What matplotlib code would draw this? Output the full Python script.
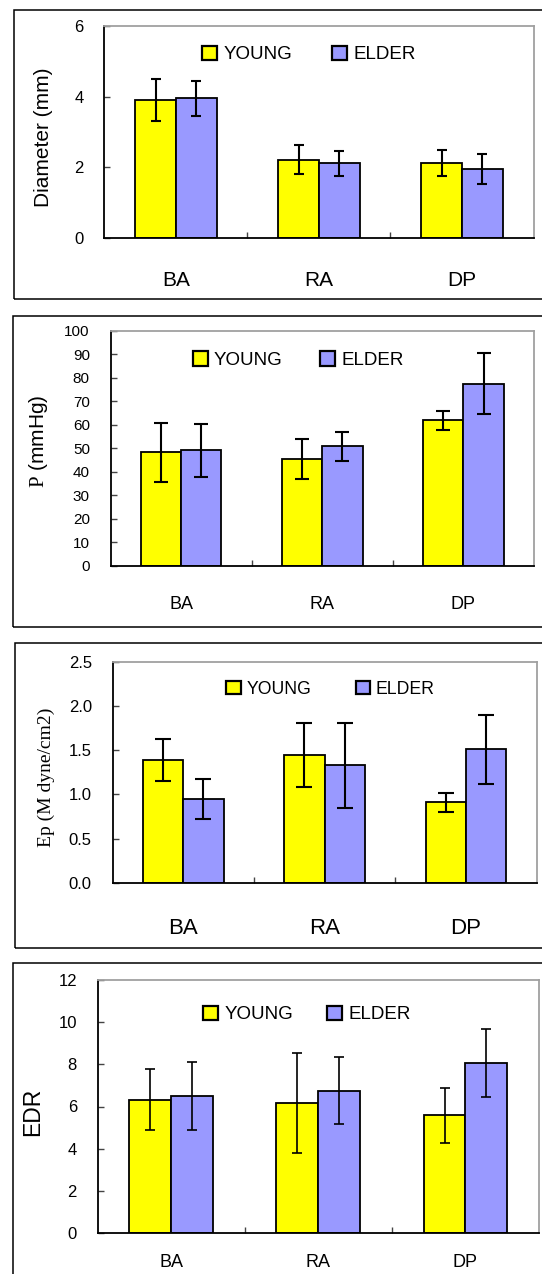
import matplotlib
matplotlib.use("Agg")
import matplotlib.pyplot as plt
from matplotlib.patches import Patch, Rectangle
import numpy as np

plt.rcParams['font.family'] = ['Liberation Sans', 'DejaVu Sans']
plt.rcParams['mathtext.fontset'] = 'custom'
plt.rcParams['mathtext.rm'] = 'Liberation Serif'

categories = ["BA", "RA", "DP"]
series_names = ["YOUNG", "ELDER"]
colors = ["#FFFF00", "#9999FF"]

# Panel 1: Diameter (mm)
diam_young = [3.90, 2.22, 2.12]
diam_young_err = [0.60, 0.40, 0.37]
diam_elder = [3.95, 2.11, 1.96]
diam_elder_err = [0.50, 0.36, 0.42]

# Panel 2: P (mmHg)
p_young = [48.2, 45.5, 61.8]
p_young_err = [12.5, 8.6, 4.0]
p_elder = [49.1, 50.9, 77.4]
p_elder_err = [11.3, 6.2, 13.0]

# Panel 3: Ep (M dyne/cm2)
ep_young = [1.39, 1.45, 0.91]
ep_young_err = [0.24, 0.36, 0.11]
ep_elder = [0.95, 1.33, 1.51]
ep_elder_err = [0.23, 0.48, 0.39]

# Panel 4: EDR
edr_young = [6.32, 6.15, 5.58]
edr_young_err = [1.45, 2.37, 1.30]
edr_elder = [6.51, 6.75, 8.06]
edr_elder_err = [1.62, 1.60, 1.60]

W, H = 542, 1274
fig = plt.figure(figsize=(W / 100, H / 100), dpi=100)


def frame(l, t, r, b):
    fig.add_artist(Rectangle((l / W, 1 - b / H), (r - l) / W, (b - t) / H,
                             transform=fig.transFigure, fill=False,
                             edgecolor='black', linewidth=1.1))


def panel(box, young, yerr_y, elder, yerr_e, ylim, yticks, ylab, ylab_kw,
          ylab_xy, tick_fs, cat_fs, cat_pad, leg, capsize, elw, fmt=None):
    l, r, t, b = box
    ax = fig.add_axes([l / W, 1 - b / H, (r - l) / W, (b - t) / H])
    x = np.arange(len(categories))
    w = 0.285
    ax.bar(x - w / 2, young, w, color=colors[0], edgecolor='black', linewidth=1.3, zorder=2)
    ax.bar(x + w / 2, elder, w, color=colors[1], edgecolor='black', linewidth=1.3, zorder=2)
    ax.errorbar(x - w / 2, young, yerr=yerr_y, fmt='none', ecolor='black',
                elinewidth=elw, capsize=capsize, capthick=elw, zorder=3)
    ax.errorbar(x + w / 2, elder, yerr=yerr_e, fmt='none', ecolor='black',
                elinewidth=elw, capsize=capsize, capthick=elw, zorder=3)
    ax.set_xlim(-0.5, 2.5)
    ax.set_ylim(*ylim)
    ax.set_yticks(yticks)
    if fmt:
        ax.set_yticklabels([fmt.format(v) for v in yticks])
    ax.set_xticks(x)
    ax.set_xticklabels(categories)
    ax.set_xticks([0.5, 1.5], minor=True)
    ax.tick_params(axis='x', which='major', length=0, pad=cat_pad, labelsize=cat_fs)
    ax.tick_params(axis='x', which='minor', direction='in', length=4, width=1, color='#444444')
    ax.tick_params(axis='y', direction='in', length=4, width=1, pad=15,
                   labelsize=tick_fs, color='#444444')
    for s in ['top', 'right']:
        ax.spines[s].set_color('#a0a0a0')
        ax.spines[s].set_linewidth(1.3)
    for s in ['left', 'bottom']:
        ax.spines[s].set_color('black')
        ax.spines[s].set_linewidth(1.3)
    ax.set_ylabel(ylab, va='center', ha='center', **ylab_kw)
    lx, ly = ylab_xy
    ax.yaxis.set_label_coords((lx - l) / (r - l), (b - ly) / (b - t))
    lx0, ly0, lfs, colsp = leg
    handles = [Patch(facecolor=colors[0], edgecolor='black', linewidth=1.6),
               Patch(facecolor=colors[1], edgecolor='black', linewidth=1.6)]
    ax.legend(handles, series_names, loc='center left',
              bbox_to_anchor=((lx0 - l) / (r - l), (b - ly0) / (b - t)),
              ncol=2, frameon=False, fontsize=lfs, borderpad=0, borderaxespad=0,
              handlelength=0.8, handleheight=0.8, handletextpad=0.35,
              columnspacing=colsp)
    return ax


# frames
frame(14, 10, 560, 299)
frame(13, 316, 560, 627)
frame(15, 643, 560, 948)
frame(13, 963, 560, 1300)

panel((104.4, 533.5, 26, 238), diam_young, diam_young_err, diam_elder, diam_elder_err,
      (0, 6), [0, 2, 4, 6], "Diameter (mm)", dict(fontsize=15), (43.5, 137),
      12, 15, 24, (202, 54.6, 13.5, 2.1), 3.6, 1.5)

panel((110.7, 534, 330.7, 565.7), p_young, p_young_err, p_elder, p_elder_err,
      (0, 100), list(range(0, 101, 10)), r"$\mathrm{P}$ (mmHg)", dict(fontsize=15),
      (38, 441), 11, 13, 22, (192.5, 360, 13.5, 2.0), 5, 1.5)

panel((112.7, 536.5, 661.7, 883), ep_young, ep_young_err, ep_elder, ep_elder_err,
      (0, 2.5), [0, 0.5, 1.0, 1.5, 2.0, 2.5], "Ep (M dyne/cm2)",
      dict(fontsize=14, family='Liberation Serif'), (46, 777),
      12, 16, 25.5, (226.4, 689, 12.7, 2.5), 6, 1.5, fmt="{:.1f}")

panel((97.8, 539, 980, 1233), edr_young, edr_young_err, edr_elder, edr_elder_err,
      (0, 12), [0, 2, 4, 6, 8, 10, 12], "EDR", dict(fontsize=16.5), (33, 1112),
      12, 13, 15, (203, 1014.5, 13.5, 1.8), 3.6, 1.2)

fig.savefig("out.png", dpi=100, facecolor='white')
